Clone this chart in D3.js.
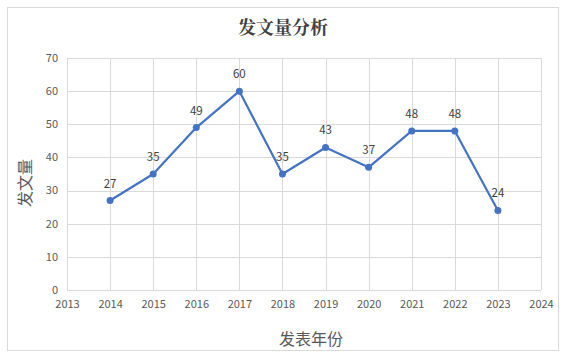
<!DOCTYPE html>
<html><head><meta charset="utf-8">
<script src="https://cdn.jsdelivr.net/npm/d3@7"></script>
<style>html,body{margin:0;padding:0;background:#fff;}</style>
</head><body>
<svg id="c" width="566" height="357"></svg>
<script>
const years = [2014, 2015, 2016, 2017, 2018, 2019, 2020, 2021, 2022, 2023];
const counts = [27, 35, 49, 60, 35, 43, 37, 48, 48, 24];
const xTicks = [2013, 2014, 2015, 2016, 2017, 2018, 2019, 2020, 2021, 2022, 2023, 2024];
const yTicks = [0, 10, 20, 30, 40, 50, 60, 70];
const title = "发文量分析";
const xTitle = "发表年份";
const yTitle = "发文量";

const svg = d3.select("#c");
const font = "'Noto Sans CJK SC', 'Noto Sans', sans-serif";
svg.append("rect").attr("x", 7.5).attr("y", 7.5).attr("width", 551).attr("height", 343)
  .attr("fill", "#fff").attr("stroke", "#d9d9d9");

const x = d3.scaleLinear().domain([2013, 2024]).range([67, 541]);
const y = d3.scaleLinear().domain([0, 70]).range([290, 58]);

// gridlines
svg.append("g").selectAll("line").data(yTicks).join("line")
  .attr("x1", x(2013)).attr("x2", x(2024))
  .attr("y1", d => Math.round(y(d)) + 0.5).attr("y2", d => Math.round(y(d)) + 0.5)
  .attr("stroke", "#d9d9d9");
svg.append("g").selectAll("line").data(xTicks).join("line")
  .attr("y1", y(0)).attr("y2", y(70))
  .attr("x1", d => Math.round(x(d)) + 0.5).attr("x2", d => Math.round(x(d)) + 0.5)
  .attr("stroke", "#d9d9d9");

// axes
const xAxis = svg.append("g").attr("transform", `translate(0,${y(0)})`)
  .call(d3.axisBottom(x).tickValues(xTicks).tickFormat(d3.format("d")).tickSize(0).tickPadding(10));
const yAxis = svg.append("g").attr("transform", `translate(${x(2013)},0)`)
  .call(d3.axisLeft(y).tickValues(yTicks).tickSize(0).tickPadding(9));
[xAxis, yAxis].forEach(a => {
  a.select(".domain").remove();
  a.selectAll("text").attr("fill", "#595959").style("font-family", font).style("font-size", "11px");
});
yAxis.selectAll("text").attr("dy", "0.3em");

// line
const line = d3.line().x((d, i) => x(years[i])).y(d => y(d));
svg.append("path").datum(counts).attr("d", line)
  .attr("fill", "none").attr("stroke", "#4472C4").attr("stroke-width", 2.2).attr("stroke-linejoin", "round");
svg.append("g").selectAll("circle").data(counts).join("circle")
  .attr("cx", (d, i) => x(years[i])).attr("cy", d => y(d)).attr("r", 3.5).attr("fill", "#4472C4");
svg.append("g").selectAll("text").data(counts).join("text")
  .attr("x", (d, i) => x(years[i])).attr("y", d => y(d) - 13)
  .attr("text-anchor", "middle").attr("fill", "#404040")
  .style("font-family", font).style("font-size", "11.5px").text(d => d);

// titles
svg.append("text").attr("x", 283).attr("y", 34).attr("text-anchor", "middle")
  .attr("fill", "#404040").style("font-family", "'Noto Serif CJK SC', 'Noto Sans CJK SC', serif")
  .style("font-size", "18px").style("font-weight", "bold").text(title);
svg.append("text").attr("x", 311).attr("y", 345).attr("text-anchor", "middle")
  .attr("fill", "#595959").style("font-family", font).style("font-size", "16px").text(xTitle);
svg.append("text").attr("transform", "translate(31,183) rotate(-90)").attr("text-anchor", "middle")
  .attr("fill", "#595959").style("font-family", font).style("font-size", "16px").text(yTitle);
</script>
</body></html>
